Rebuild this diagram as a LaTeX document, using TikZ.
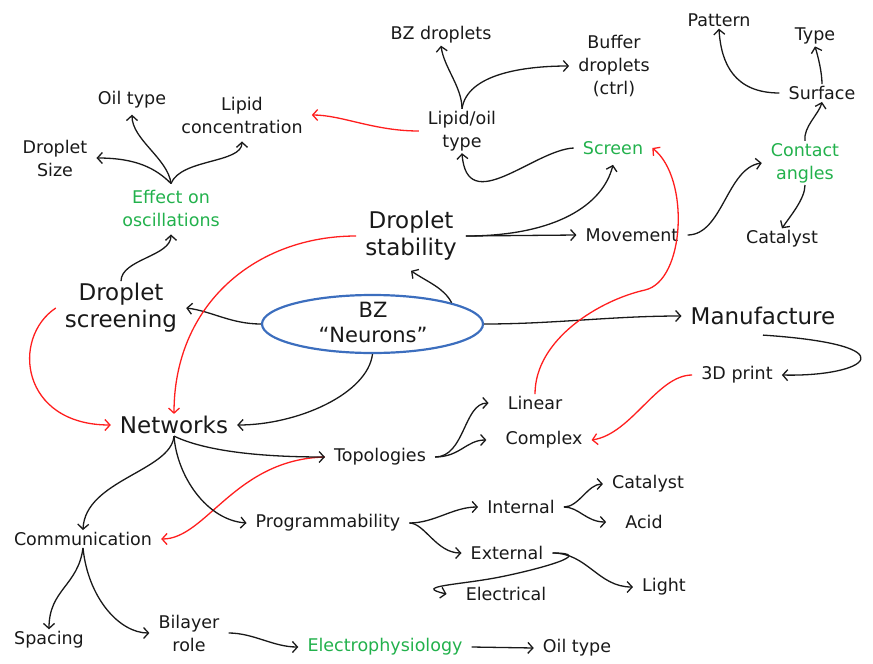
\documentclass[tikz,border=0pt]{standalone}
\usepackage{fontspec}
\setmainfont{DejaVu Sans}
\usetikzlibrary{arrows.meta,shapes.geometric}
\definecolor{hgreen}{RGB}{34,177,76}
\definecolor{hred}{RGB}{255,30,30}
\definecolor{hblue}{RGB}{60,110,190}
\definecolor{hink}{RGB}{25,25,25}
\begin{document}
\begin{tikzpicture}[x=1pt,y=-1pt,
  lbl/.style={font=\fontsize{17.5}{23}\selectfont, align=center, text=hink, inner xsep=9pt, inner ysep=2pt},
  big/.style={lbl, font=\fontsize{23}{27}\selectfont},
  grn/.style={lbl, text=hgreen},
  conn/.style={draw=hink, line width=1.3pt, -{Straight Barb[length=5pt,width=11pt]}},
  rconn/.style={conn, draw=hred},
]
\useasboundingbox (0,0) rectangle (873,664);

% main nodes
\node[big] (ds)  at (411,236) {Droplet\\stability};
\node[big] (dsc) at (121,308) {Droplet\\screening};
\node[big] (net) at (174,425) {Networks};
\node[big] (man) at (763,316) {Manufacture};
\node[ellipse, draw=hblue, line width=2.2pt, minimum width=221pt, minimum height=58pt, inner sep=0pt] (bz) at (372.5,324) {};
\node[lbl, font=\fontsize{21}{25}\selectfont] (bzt) at (373,322) {BZ\\“Neurons”};

% other nodes
\node[lbl] (bzd)  at (441,35)  {BZ droplets};
\node[lbl] (buf)  at (614,66)  {Buffer\\droplets\\(ctrl)};
\node[lbl] (pat)  at (719,20)  {Pattern};
\node[lbl] (typ)  at (815,36)  {Type};
\node[lbl] (surf) at (822,93)  {Surface};
\node[lbl] (oil1) at (132,100) {Oil type};
\node[lbl] (lc)   at (242,115) {Lipid\\concentration};
\node[lbl] (lot)  at (462,131) {Lipid/oil\\type};
\node[grn] (scr)  at (613,148) {Screen};
\node[grn] (ca)   at (805,163) {Contact\\angles};
\node[lbl] (dsz)  at (55,158)  {Droplet\\Size};
\node[grn] (eff)  at (171,208) {Effect on\\oscillations};
\node[lbl] (mov)  at (632,235) {Movement};
\node[lbl] (cat1) at (782,239) {Catalyst};
\node[lbl] (tdp)  at (737,375) {3D print};
\node[lbl] (lin)  at (535,403) {Linear};
\node[lbl] (cx)   at (544,440) {Complex};
\node[lbl] (top)  at (380,457) {Topologies};
\node[lbl] (cat2) at (648,484) {Catalyst};
\node[lbl] (int)  at (521,507) {Internal};
\node[lbl] (com)  at (83,539)  {Communication};
\node[lbl] (prog) at (328,523) {Programmability};
\node[lbl] (acid) at (644,522) {Acid};
\node[lbl] (ext)  at (507,553) {External};
\node[lbl] (light) at (664,587) {Light};
\node[lbl] (elec) at (506,594) {Electrical};
\node[lbl] (bil)  at (189,633) {Bilayer\\role};
\node[lbl] (sp)   at (49,640)  {Spacing};
\node[grn] (ep)   at (385,647) {Electrophysiology};
\node[lbl] (oil2) at (577,648) {Oil type};

\coordinate (rbend) at (645,290);
\coordinate (ebend) at (500,577);

% from the ellipse
\draw[conn] (bz.15) .. controls +(-8,-15) and +(18,12) .. ([yshift=-8pt]ds.south);
\draw[conn] (bz.west) .. controls +(-30,0) and +(25,3) .. (dsc.east);
\draw[conn] (bz.south) .. controls +(-5,40) and +(60,0) .. (net.east);
\draw[conn] (bz.east) .. controls +(70,0) and +(-70,0) .. (man.west);

% screening branch
\draw[conn] (dsc.north) .. controls +(0,-22) and +(0,22) .. ([yshift=-6pt]eff.south);
\draw[conn] ([yshift=4pt]eff.north) .. controls +(-3,-25) and +(0,25) .. ([yshift=-4pt]oil1.south);
\draw[conn] ([yshift=4pt]eff.north) .. controls +(-15,-15) and +(40,0) .. (dsz.east);
\draw[conn] ([yshift=4pt]eff.north) .. controls +(10,-25) and +(0,22) .. ([yshift=-6pt]lc.south);

% stability branch
\draw[conn] (ds.east) -- (mov.west);
\draw[conn] (ds.east) .. controls +(90,0) and +(-10,40) .. ([yshift=-8pt]scr.south);
\draw[conn] (mov.east) .. controls +(35,0) and +(-35,5) .. (ca.west);
\draw[conn] (ca.south) .. controls +(0,14) and +(8,-12) .. (cat1.north);
\draw[conn] (ca.north) .. controls +(-2,-14) and +(-3,12) .. (surf.south);
\draw[conn] (surf.west) .. controls +(-45,0) and +(2,35) .. (pat.south);
\draw[conn] (surf.north) .. controls +(0,-12) and +(3,10) .. (typ.south);
\draw[conn] (scr.west) .. controls +(-40,2) and +(5,65) .. (lot.south);
\draw[conn] (lot.north) .. controls +(0,-22) and +(3,22) .. (bzd.south);
\draw[conn] (lot.north) .. controls +(5,-35) and +(-45,0) .. (buf.west);

% red links
\draw[rconn] (lot.west) .. controls +(-45,0) and +(30,0) .. (lc.east);
\draw[rconn] (ds.west) .. controls +(-100,0) and +(0,-110) .. (net.north);
\draw[rconn] (dsc.west) .. controls +(-45,30) and +(-90,0) .. (net.west);
\draw[rconn] (lin.north) .. controls +(0,-55) and +(-45,10) .. (rbend) .. controls +(40,-9) and +(38,30) .. (scr.east);
\draw[rconn] (tdp.west) .. controls +(-35,0) and +(40,-6) .. (cx.east);
\draw[rconn] (top.west) .. controls +(-90,2) and +(45,0) .. (com.east);

% manufacture
\draw[conn] ([yshift=-8pt]man.south) .. controls +(150,10) and +(85,2) .. (tdp.east);

% networks branch
\draw[conn] (net.south) .. controls +(25,12) and +(-80,0) .. (top.west);
\draw[conn] (net.south) .. controls +(-3,35) and +(2,-50) .. (com.north);
\draw[conn] (net.south) .. controls +(3,40) and +(-40,-3) .. (prog.west);
\draw[conn] (top.east) .. controls +(30,0) and +(-25,0) .. ([xshift=-10pt]lin.west);
\draw[conn] (top.east) .. controls +(25,0) and +(-20,0) .. ([xshift=-10pt]cx.west);
\draw[conn] (prog.east) .. controls +(25,0) and +(-25,0) .. (int.west);
\draw[conn] (prog.east) .. controls +(15,0) and +(-25,0) .. (ext.west);
\draw[conn] (int.east) .. controls +(15,0) and +(-15,0) .. (cat2.west);
\draw[conn] (int.east) .. controls +(15,0) and +(-20,0) .. ([xshift=-10pt]acid.west);
\draw[conn] (ext.east) .. controls +(35,0) and +(-35,0) .. (light.west);
\draw[conn] (ext.east) .. controls +(45,0) and +(40,-8) .. (ebend) .. controls +(-40,8) and +(-35,-8) .. ([xshift=-10pt]elec.west);

% communication branch
\draw[conn] (com.south) .. controls +(-5,38) and +(0,-40) .. (sp.north);
\draw[conn] (com.south) .. controls +(5,50) and +(-30,0) .. (bil.west);
\draw[conn] (bil.east) .. controls +(25,0) and +(-25,0) .. (ep.west);
\draw[conn] (ep.east) -- (oil2.west);
\end{tikzpicture}
\end{document}
